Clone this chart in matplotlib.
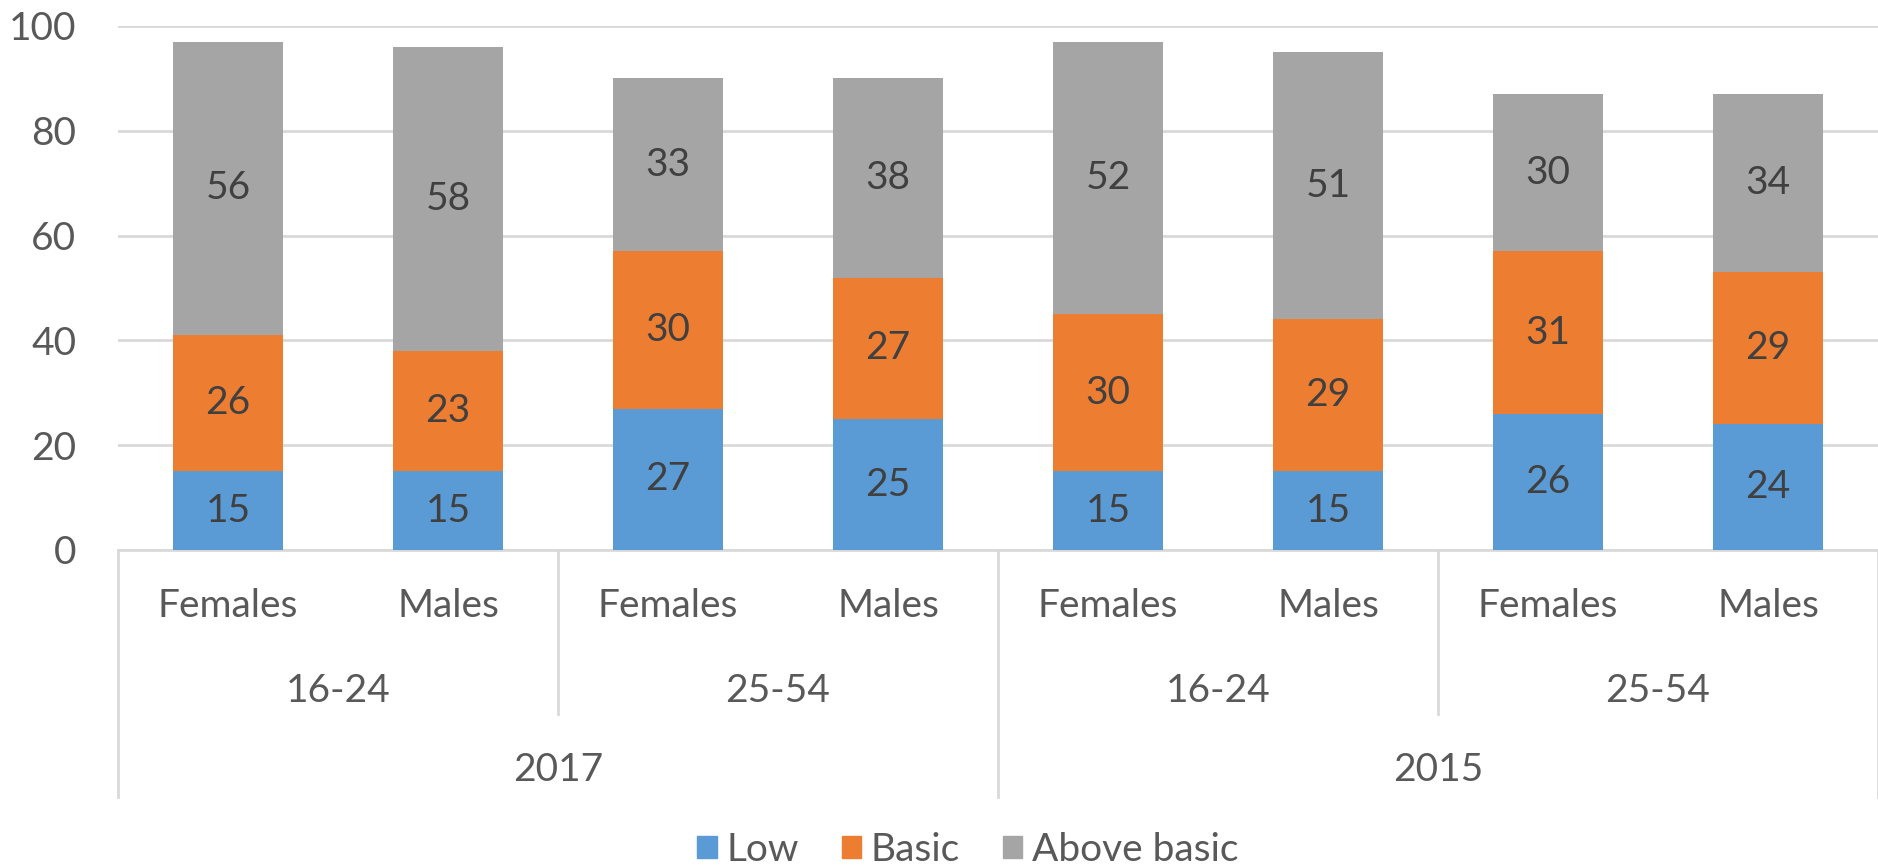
import numpy as np
import matplotlib
matplotlib.use('Agg')
import matplotlib.pyplot as plt
from matplotlib.patches import Patch

plt.rcParams['font.family'] = ['Lato', 'DejaVu Sans']

# data
sexes = ['Females', 'Males', 'Females', 'Males', 'Females', 'Males', 'Females', 'Males']
ages = ['16-24', '25-54', '16-24', '25-54']
years = ['2017', '2015']
low = [15, 15, 27, 25, 15, 15, 26, 24]
basic = [26, 23, 30, 27, 30, 29, 31, 29]
above = [56, 58, 33, 38, 52, 51, 30, 34]

series = [('Low', low, '#5b9bd5'), ('Basic', basic, '#ed7d31'), ('Above basic', above, '#a5a5a5')]

W, H = 1878, 867
fig = plt.figure(figsize=(W / 100, H / 100), dpi=100)
ax = fig.add_axes([118 / W, 1 - 550 / H, 1760 / W, 524 / H])

txt = '#595959'
grid = '#d9d9d9'
fs = 28

x = np.arange(len(sexes))
bottom = np.zeros(len(sexes))
for name, vals, col in series:
    vals = np.array(vals)
    ax.bar(x, vals, 0.5, bottom=bottom, color=col, label=name, zorder=3)
    for xi, b, v in zip(x, bottom, vals):
        ax.text(xi, b + v / 2, str(v), ha='center', va='center', fontsize=fs, color='#404040', zorder=4)
    bottom += vals

ax.set_xlim(-0.5, len(sexes) - 0.5)
ax.set_ylim(0, 100)
ax.set_yticks(range(0, 101, 20))
ax.tick_params(axis='y', length=0, pad=30, labelsize=fs, labelcolor=txt)
ax.set_xticks([])
ax.yaxis.grid(True, color=grid, linewidth=2)
ax.set_axisbelow(True)
for s in ax.spines.values():
    s.set_visible(False)

# x axis line and hierarchical labels
ax.plot([-0.5, len(sexes) - 0.5], [0, 0], color=grid, lw=2, clip_on=False, zorder=2)
for xi, s in enumerate(sexes):
    ax.text(xi, -10.7, s, ha='center', va='center', fontsize=fs, color=txt)
for i, a in enumerate(ages):
    ax.text(2 * i + 0.5, -26.9, a, ha='center', va='center', fontsize=fs, color=txt)
for i, yr in enumerate(years):
    ax.text(4 * i + 1.5, -42.0, yr, ha='center', va='center', fontsize=fs, color=txt)
for b in [1.5, 5.5]:
    ax.plot([b, b], [0, -31.3], color=grid, lw=2, clip_on=False)
for b in [-0.5, 3.5, 7.5]:
    ax.plot([b, b], [0, -47.1], color=grid, lw=2, clip_on=False)

handles = [Patch(color=c, label=n) for n, v, c in series]
fig.legend(handles=handles, loc='center', bbox_to_anchor=(968 / W, 1 - 850 / H), ncol=3,
           frameon=False, fontsize=fs, labelcolor=txt, handlelength=0.5, handleheight=0.5,
           handletextpad=0.25, columnspacing=1.1)

fig.savefig('out.png', dpi=100)
